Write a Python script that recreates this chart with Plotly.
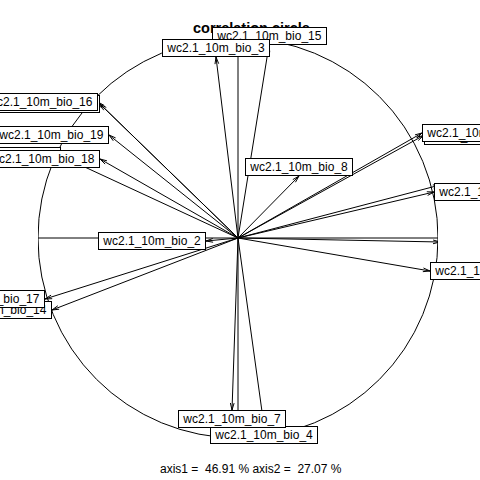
import numpy as np
import plotly.graph_objects as go

# variable names in drawing order (alphabetical, as in the source)
names = ["wc2.1_10m_bio_1", "wc2.1_10m_bio_10", "wc2.1_10m_bio_11", "wc2.1_10m_bio_12",
         "wc2.1_10m_bio_13", "wc2.1_10m_bio_14", "wc2.1_10m_bio_15", "wc2.1_10m_bio_16",
         "wc2.1_10m_bio_17", "wc2.1_10m_bio_18", "wc2.1_10m_bio_19", "wc2.1_10m_bio_2",
         "wc2.1_10m_bio_3", "wc2.1_10m_bio_4", "wc2.1_10m_bio_5", "wc2.1_10m_bio_6",
         "wc2.1_10m_bio_7", "wc2.1_10m_bio_8", "wc2.1_10m_bio_9"]
# correlation with axis 1
axis1 = [1.01, 0.9275, 0.98, -0.885, -0.69, -0.93, 0.155, -0.70, -0.965, -0.69, -0.645,
         -0.16, -0.11, 0.13, 0.92, 1.01, -0.03, 0.305, 0.96]
# correlation with axis 2
axis2 = [0.265, 0.5125, 0.23, 0.41, 0.67, -0.36, 0.965, 0.68, -0.305, 0.395, 0.515,
         -0.015, 0.905, -0.94, 0.525, -0.02, -0.86, 0.31, -0.165]

title_text = "correlation circle"
sub_text = "axis1 =  46.91 % axis2 =  27.07 %"

FONT = "Liberation Sans, Arial, sans-serif"
head_len = 0.036
head_ang = np.deg2rad(15)

fig = go.Figure()

# arrows
xs, ys = [], []
for x, y in zip(axis1, axis2):
    xs += [0, x, None]
    ys += [0, y, None]
    ang = np.arctan2(y, x)
    for s in (1, -1):
        a = ang + np.pi + s * head_ang
        xs += [x, x + head_len * np.cos(a), None]
        ys += [y, y + head_len * np.sin(a), None]
fig.add_trace(go.Scatter(x=xs, y=ys, mode="lines", line=dict(color="black", width=1),
                         hoverinfo="skip", showlegend=False))

shapes = [
    dict(type="circle", xref="x", yref="y", x0=-1, y0=-1, x1=1, y1=1,
         line=dict(color="black", width=1)),
    dict(type="line", xref="x", yref="y", x0=-1, y0=0, x1=1, y1=0,
         line=dict(color="black", width=1)),
    dict(type="line", xref="x", yref="y", x0=0, y0=-1, x1=0, y1=1,
         line=dict(color="black", width=1)),
]

annotations = [dict(text="<b>" + title_text + "</b>", xref="paper", yref="paper",
                    x=0.5325, y=1.0255, xanchor="center", yanchor="middle",
                    showarrow=False, font=dict(family=FONT, size=14.5, color="black"))]

for name, x, y in zip(names, axis1, axis2):
    if x > y and x > -y:
        xa, ya = "left", "middle"
    elif x > y and x <= -y:
        xa, ya = "center", "top"
    elif x <= y and x <= -y:
        xa, ya = "right", "middle"
    else:
        xa, ya = "center", "bottom"
    annotations.append(dict(text="\u00a0" + name + "\u00a0", x=x, y=y, xref="x", yref="y",
                            xanchor=xa, yanchor=ya, showarrow=False,
                            bgcolor="white", bordercolor="black", borderwidth=1, borderpad=1,
                            font=dict(family=FONT, size=12, color="black")))

annotations.append(dict(text=sub_text, xref="paper", yref="paper", x=0.5325, y=-0.0775,
                        xanchor="center", yanchor="middle", showarrow=False,
                        font=dict(family=FONT, size=12, color="black")))

fig.update_layout(
    width=480, height=480,
    margin=dict(l=38, r=42, t=38, b=42, autoexpand=False),
    paper_bgcolor="white", plot_bgcolor="white",
    xaxis=dict(range=[-1, 1], visible=False, showgrid=False, zeroline=False),
    yaxis=dict(range=[-1, 1], visible=False, showgrid=False, zeroline=False),
    shapes=shapes, annotations=annotations, showlegend=False,
)

fig.write_html("out.html", config={"displayModeBar": False},
               post_script="document.body.style.margin='0px';document.body.style.padding='0px';")
